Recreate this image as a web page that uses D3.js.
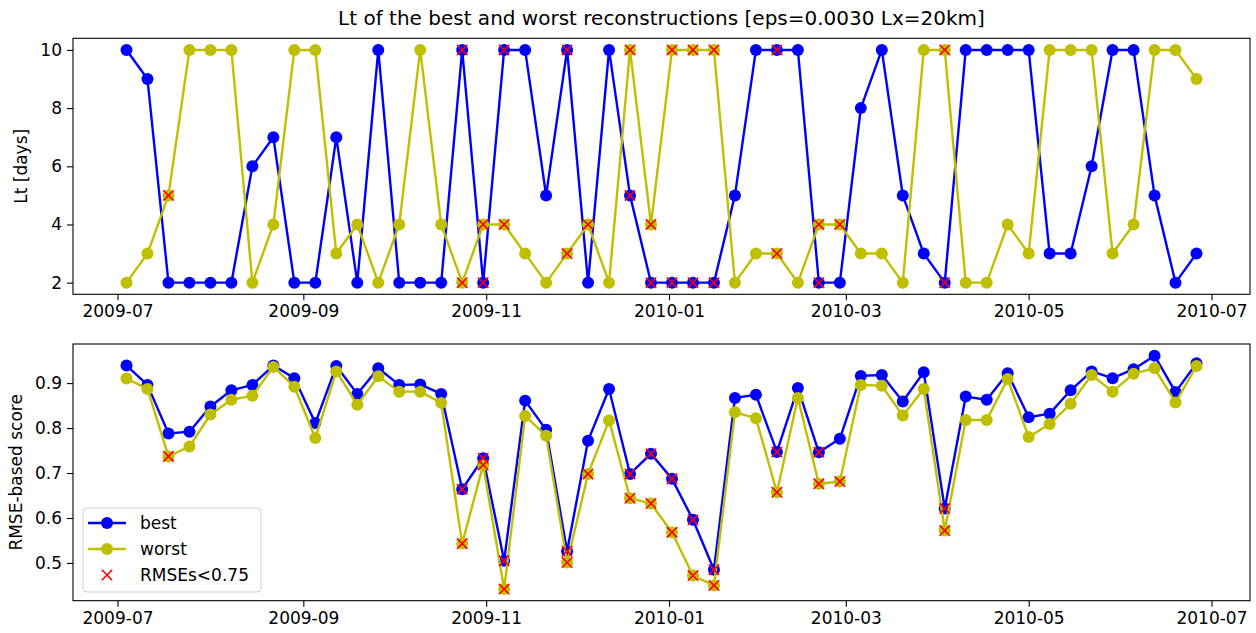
<!DOCTYPE html>
<html>
<head>
<meta charset="utf-8">
<script src="https://cdn.jsdelivr.net/npm/d3@7"></script>
<style>
  html, body { margin: 0; padding: 0; background: #fff; }
  svg { display: block; font-family: "DejaVu Sans", sans-serif; }
</style>
</head>
<body>
<svg id="chart" width="1256" height="633"></svg>
<script>
// ---- data ----
const dates = [
  "2009-07-04","2009-07-11","2009-07-18","2009-07-25","2009-08-01","2009-08-08","2009-08-15","2009-08-22","2009-08-29",
  "2009-09-05","2009-09-12","2009-09-19","2009-09-26","2009-10-03","2009-10-10","2009-10-17","2009-10-24","2009-10-31",
  "2009-11-07","2009-11-14","2009-11-21","2009-11-28","2009-12-05","2009-12-12","2009-12-19","2009-12-26",
  "2010-01-02","2010-01-09","2010-01-16","2010-01-23","2010-01-30","2010-02-06","2010-02-13","2010-02-20","2010-02-27",
  "2010-03-06","2010-03-13","2010-03-20","2010-03-27","2010-04-03","2010-04-10","2010-04-17","2010-04-24",
  "2010-05-01","2010-05-08","2010-05-15","2010-05-22","2010-05-29","2010-06-05","2010-06-12","2010-06-19","2010-06-26"
];
const ltBest = [10,9,2,2,2,2,6,7,2,2, 7,2,10,2,2,2,10,2,10,10, 5,10,2,10,5,2,2,2,2,5,
  10,10,10,2,2,8,10,5,3,2, 10,10,10,10,3,3,6,10,10,5,2,3];
const ltWorst = [2,3,5,10,10,10,2,4,10,10, 3,4,2,4,10,4,2,4,4,3, 2,3,4,2,10,4,10,10,10,2,
  3,3,2,4,4,3,3,2,10,10, 2,2,4,3,10,10,10,3,4,10,10,9];
const scoreBest = [0.939,0.896,0.788,0.792,0.848,0.884,0.896,0.939,0.911,0.811,
  0.938,0.876,0.933,0.896,0.897,0.876,0.664,0.733,0.505,0.861,
  0.796,0.526,0.772,0.887,0.698,0.743,0.687,0.596,0.485,0.867,
  0.874,0.747,0.889,0.746,0.776,0.916,0.918,0.859,0.924,0.621,
  0.870,0.863,0.922,0.824,0.832,0.884,0.926,0.911,0.931,0.961,0.880,0.944];
const scoreWorst = [0.910,0.887,0.737,0.759,0.830,0.863,0.872,0.936,0.892,0.778,
  0.926,0.852,0.915,0.881,0.881,0.856,0.543,0.718,0.442,0.827,
  0.783,0.501,0.698,0.817,0.644,0.632,0.568,0.472,0.450,0.835,
  0.822,0.657,0.867,0.676,0.681,0.896,0.894,0.828,0.887,0.572,
  0.818,0.818,0.909,0.780,0.809,0.854,0.918,0.881,0.921,0.933,0.857,0.938];
const threshold = 0.75;
const ltTicks = [2,4,6,8,10];
const scoreTicks = [0.5,0.6,0.7,0.8,0.9];
const titleText = "Lt of the best and worst reconstructions [eps=0.0030 Lx=20km]";
const legendLabels = ["best","worst","RMSEs<0.75"];

// ---- setup ----
const svg = d3.select("#chart");
const parse = d3.utcParse("%Y-%m-%d");
const X = dates.map(parse);
const BLUE = "#0000ff", YEL = "#bfbf00", RED = "#ff0000";
const FONT = 17;

const left = 73, right = 1250;
const panels = [
  {top: 38.3, bottom: 294.3, series: [ltBest, ltWorst], ticks: ltTicks, fmt: d3.format("d"), label: "Lt [days]", labelX: 22},
  {top: 344, bottom: 600.7, series: [scoreBest, scoreWorst], ticks: scoreTicks, fmt: d3.format(".1f"), label: "RMSE-based score", labelX: 17}
];
const scores = [scoreBest, scoreWorst];

function padDomain(ext, frac) {
  const r = ext[1] - ext[0];
  return [ext[0] - r*frac, ext[1] + r*frac];
}
const xExt = d3.extent(X).map(d => +d);
const xDom = padDomain(xExt, 0.05).map(v => new Date(v));
const x = d3.scaleUtc().domain(xDom).range([left, right]);

svg.append("text")
  .attr("x", (left + right)/2).attr("y", 25)
  .attr("text-anchor", "middle").attr("font-size", 20).attr("fill", "#000")
  .text(titleText);

panels.forEach((p, pi) => {
  const all = p.series[0].concat(p.series[1]);
  const y = d3.scaleLinear().domain(padDomain(d3.extent(all), 0.05)).range([p.bottom, p.top]);
  const g = svg.append("g");

  // axes
  const xa = g.append("g").attr("transform", `translate(0,${p.bottom})`)
    .call(d3.axisBottom(x).ticks(d3.utcMonth.every(2)).tickFormat(d3.utcFormat("%Y-%m")).tickSizeOuter(0).tickSize(6).tickPadding(5));
  const ya = g.append("g").attr("transform", `translate(${left},0)`)
    .call(d3.axisLeft(y).tickValues(p.ticks).tickFormat(p.fmt).tickSizeOuter(0).tickSize(6).tickPadding(5));
  [xa, ya].forEach(a => {
    a.select(".domain").remove();
    a.selectAll("text").attr("font-size", FONT).attr("font-family", "DejaVu Sans").attr("fill", "#000");
    a.selectAll("line").attr("stroke", "#000").attr("stroke-width", 1.1);
  });

  g.append("text")
    .attr("transform", `translate(${p.labelX},${(p.top+p.bottom)/2}) rotate(-90)`)
    .attr("text-anchor", "middle").attr("dominant-baseline", "middle")
    .attr("font-size", FONT).attr("fill", "#000").text(p.label);

  // series
  const colors = [BLUE, YEL];
  p.series.forEach((s, si) => {
    const line = d3.line().x((d, i) => x(X[i])).y(d => y(d));
    g.append("path").datum(s).attr("d", line)
      .attr("fill", "none").attr("stroke", colors[si]).attr("stroke-width", 2.4).attr("stroke-linejoin", "round");
    g.selectAll(null).data(s).enter().append("circle")
      .attr("cx", (d, i) => x(X[i])).attr("cy", d => y(d)).attr("r", 6).attr("fill", colors[si]);
  });
  // red crosses
  const R = 5.2;
  p.series.forEach((s, si) => {
    s.forEach((v, i) => {
      if (scores[si][i] < threshold) {
        const cx = x(X[i]), cy = y(v);
        g.append("path")
          .attr("d", `M${cx-R},${cy-R}L${cx+R},${cy+R}M${cx-R},${cy+R}L${cx+R},${cy-R}`)
          .attr("stroke", RED).attr("stroke-width", 1.6).attr("fill", "none");
      }
    });
  });

  // frame
  g.append("rect").attr("x", left).attr("y", p.top).attr("width", right-left).attr("height", p.bottom-p.top)
    .attr("fill", "none").attr("stroke", "#000").attr("stroke-width", 1.1);

  if (pi === 1) {
    const lg = svg.append("g");
    lg.append("rect").attr("x", 83).attr("y", 508).attr("width", 178).attr("height", 84)
      .attr("rx", 4).attr("fill", "#fff").attr("fill-opacity", 0.8).attr("stroke", "#d0d0d0").attr("stroke-width", 1);
    const rows = [523, 549, 575];
    [BLUE, YEL].forEach((c, k) => {
      lg.append("line").attr("x1", 88).attr("x2", 126).attr("y1", rows[k]).attr("y2", rows[k])
        .attr("stroke", c).attr("stroke-width", 2.4);
      lg.append("circle").attr("cx", 107).attr("cy", rows[k]).attr("r", 6).attr("fill", c);
    });
    const cx = 107, cy = rows[2];
    lg.append("path").attr("d", `M${cx-R},${cy-R}L${cx+R},${cy+R}M${cx-R},${cy+R}L${cx+R},${cy-R}`)
      .attr("stroke", RED).attr("stroke-width", 1.6);
    legendLabels.forEach((t, k) => {
      lg.append("text").attr("x", 140).attr("y", rows[k]).attr("dominant-baseline", "central")
        .attr("font-size", FONT).attr("fill", "#000").text(t);
    });
  }
});
</script>
</body>
</html>
